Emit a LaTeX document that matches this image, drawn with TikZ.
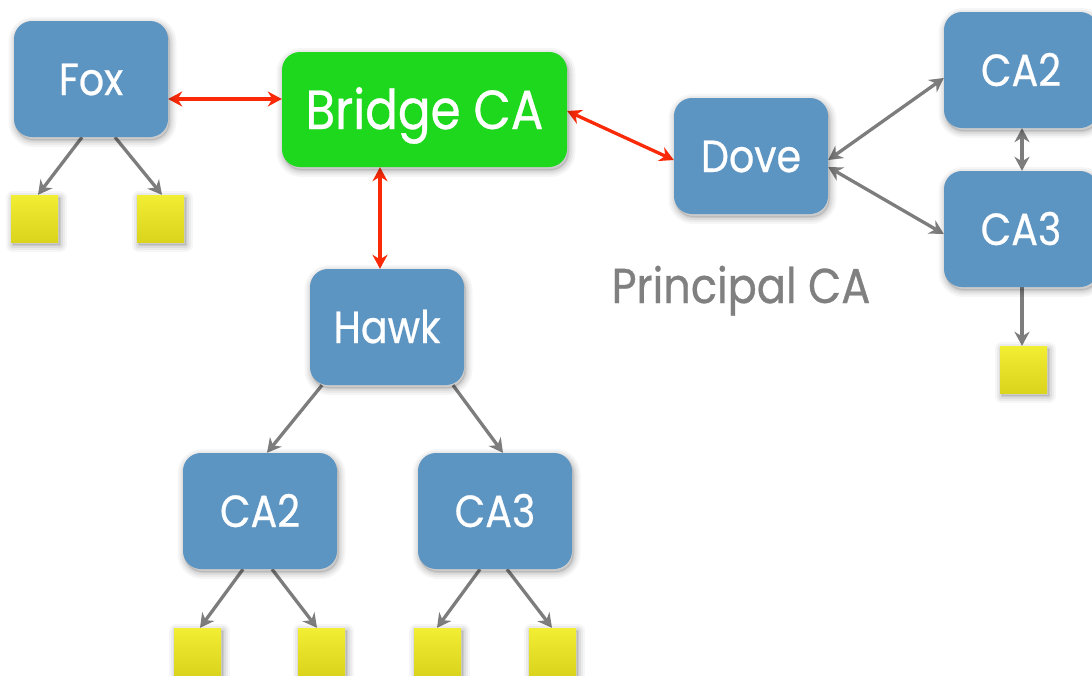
\documentclass[tikz,border=0pt]{standalone}
\usepackage{fontspec}
\setmainfont{Poppins}[FakeStretch=0.88, FakeBold=0.6]
\usetikzlibrary{arrows.meta}
\pgfdeclarelayer{background}
\pgfdeclarelayer{links}
\pgfsetlayers{background,links,main}
\definecolor{boxblue}{RGB}{92,148,194}
\definecolor{bridgegreen}{RGB}{30,216,30}
\definecolor{leaftop}{RGB}{242,238,52}
\definecolor{leafbot}{RGB}{218,212,28}
\definecolor{linkred}{RGB}{250,42,8}
\definecolor{linkgrey}{RGB}{125,125,125}
\definecolor{labelgrey}{RGB}{128,128,128}
\tikzset{
  % soft drop shadow built from stacked translucent strokes
  shadowring/.style 2 args={preaction={draw=black, draw opacity=#2,
      line width=#1, line join=round, transform canvas={shift={(1.5pt,-3pt)}}}},
  softshadow/.style={
      shadowring={14pt}{0.035}, shadowring={10pt}{0.045},
      shadowring={6pt}{0.06}, shadowring={2pt}{0.08},
      preaction={fill=black, fill opacity=0.08,
      transform canvas={shift={(1.5pt,-3pt)}}}},
  cabox/.style={rounded corners=18pt, fill=boxblue, minimum width=154pt,
      minimum height=116pt, inner sep=0pt, text=white,
      font=\fontsize{45}{50}\selectfont, text height=32pt, text depth=0pt,
      softshadow},
  bridgebox/.style={cabox, fill=bridgegreen, minimum width=285pt,
      minimum height=115pt, font=\fontsize{55}{60}\selectfont, text height=39pt},
  leaf/.style={minimum size=47pt, inner sep=0pt, top color=leaftop,
      bottom color=leafbot, softshadow},
  redlink/.style={draw=linkred, line width=3.3pt, {Stealth[length=14pt,width=15pt]}-{Stealth[length=14pt,width=15pt]}},
  greylink/.style={draw=linkgrey, line width=3.3pt, -{Stealth[length=14pt,width=15pt]}},
  greybothlink/.style={draw=linkgrey, line width=3.3pt, {Stealth[length=14pt,width=15pt]}-{Stealth[length=14pt,width=15pt]}},
  caption/.style={text=labelgrey, font=\fontsize{49}{54}\selectfont, inner sep=0pt}
}
\begin{document}
\begin{tikzpicture}[x=1pt, y=-1pt]
  \useasboundingbox (0,0) rectangle (1092,675);
  \clip (0,0) rectangle (1092,675);
  \begin{pgfonlayer}{background}
    \fill[white] (0,0) rectangle (1092,675);
  \end{pgfonlayer}

  % certification authorities
  \node[cabox] (fox) at (91,79) {Fox};
  \node[bridgebox] (bridge) at (424.5,109.5) {Bridge CA};
  \node[cabox] (dove) at (751,156) {Dove};
  \node[cabox] (dca2) at (1021,70) {CA2};
  \node[cabox] (dca3) at (1021,229) {CA3};
  \node[cabox] (hawk) at (387,327) {Hawk};
  \node[cabox] (hca2) at (260,511) {CA2};
  \node[cabox] (hca3) at (495,511) {CA3};

  % end entities
  \node[leaf] (fl1) at (34.5,218.5) {};
  \node[leaf] (fl2) at (160.5,218.5) {};
  \node[leaf] (dl) at (1023.5,369.5) {};
  \node[leaf] (hl1) at (197.5,651.5) {};
  \node[leaf] (hl2) at (321.5,651.5) {};
  \node[leaf] (hl3) at (437.5,651.5) {};
  \node[leaf] (hl4) at (552.5,651.5) {};

  \node[caption, anchor=base] (pca) at (741,303) {Principal CA};

  \begin{pgfonlayer}{links}
    % cross-certification with the bridge
    \draw[redlink] (fox.east |- 0,99) -- (bridge.west |- 0,99);
    \draw[redlink] (bridge.south -| 380,0) -- (hawk.north -| 380,0);
    \draw[redlink] (bridge.east |- 0,111) -- (dove.west |- 0,160);

    % mesh around Dove
    \draw[greybothlink] (dove.east |- 0,160) -- (dca2.west |- 0,78);
    \draw[greybothlink] (dove.east |- 0,167) -- (dca3.west |- 0,234);
    \draw[greybothlink] (dca2.south -| 1022,0) -- (dca3.north -| 1022,0);
    \draw[greylink] (dca3.south -| 1022,0) -- (dl.north -| 1022,0);

    % Fox hierarchy
    \draw[greylink] (fox.south -| 82,0) -- (fl1.north -| 38,0);
    \draw[greylink] (fox.south -| 115,0) -- (fl2.north -| 162,0);

    % Hawk hierarchy
    \draw[greylink] (hawk.south -| 322,0) -- (hca2.north -| 267,0);
    \draw[greylink] (hawk.south -| 453,0) -- (hca3.north -| 503,0);
    \draw[greylink] (hca2.south -| 243,0) -- (hl1.north -| 200,0);
    \draw[greylink] (hca2.south -| 272,0) -- (hl2.north -| 317,0);
    \draw[greylink] (hca3.south -| 480,0) -- (hl3.north -| 437,0);
    \draw[greylink] (hca3.south -| 507,0) -- (hl4.north -| 552,0);
  \end{pgfonlayer}
\end{tikzpicture}
\end{document}
